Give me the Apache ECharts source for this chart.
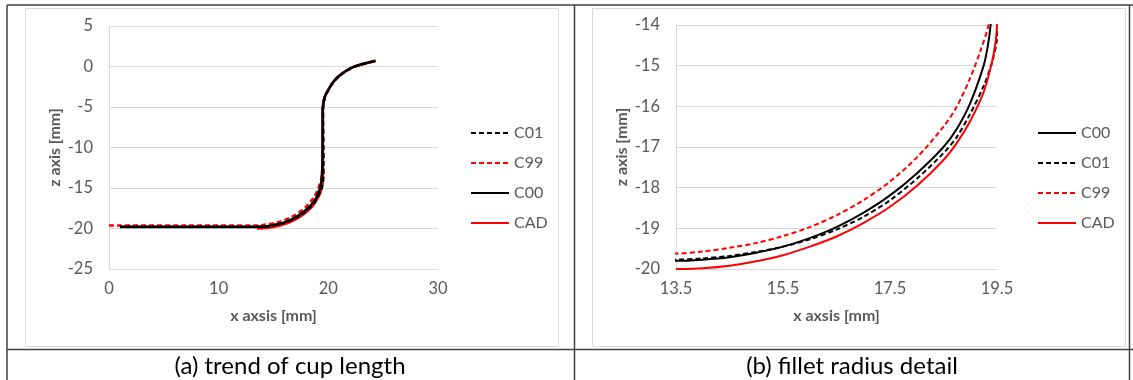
<!DOCTYPE html>
<html>
<head>
<meta charset="utf-8">
<title>cup profile</title>
<script src="https://cdn.jsdelivr.net/npm/echarts@6.0.0/dist/echarts.min.js"></script>
<style>
    html, body { margin: 0; padding: 0; background: #fff; }
    #main { width: 1133px; height: 380px; }
</style>
</head>
<body>
<div id="main"></div>
<script>
// profile points [x, z] in mm
var cadPoints = [
    [13.5, -20.0], [14.0, -19.98], [14.5, -19.92], [15.0, -19.81], [15.5, -19.66], [16.0, -19.45],
    [16.5, -19.2], [17.0, -18.87], [17.5, -18.47], [18.0, -17.96], [18.5, -17.32], [18.75, -16.9],
    [19.0, -16.36], [19.25, -15.65], [19.4, -14.95], [19.47, -14.45], [19.5, -14.0], [19.51, -13.0],
    [19.5, -5.3], [19.56, -4.5], [19.65, -3.9], [19.8, -3.35], [20.0, -2.9], [20.3, -2.2],
    [20.6, -1.68], [21.0, -1.15], [21.5, -0.65], [22.0, -0.25], [22.4, 0.0], [23.0, 0.26],
    [23.6, 0.47], [24.3, 0.7]
];
var c00Points = [
    [1.0, -19.82], [7.0, -19.81], [13.5, -19.8], [14.0, -19.77], [14.5, -19.71], [15.0, -19.6],
    [15.5, -19.45], [16.0, -19.24], [16.5, -18.97], [17.0, -18.62], [17.5, -18.19], [18.0, -17.65],
    [18.5, -17.0], [18.75, -16.55], [19.0, -15.92], [19.25, -15.0], [19.33, -14.5], [19.38, -14.0],
    [19.43, -13.0], [19.47, -11.5], [19.48, -5.2], [19.55, -4.45], [19.64, -3.88], [19.8, -3.33],
    [20.0, -2.88], [20.3, -2.19], [20.6, -1.67], [21.0, -1.14], [21.5, -0.64], [22.0, -0.24],
    [22.4, 0.01], [23.0, 0.27], [23.6, 0.48], [24.3, 0.72]
];
var c01Points = [
    [1.0, -19.79], [7.0, -19.78], [13.5, -19.77], [14.0, -19.74], [14.5, -19.68], [15.0, -19.58],
    [15.5, -19.45], [16.0, -19.27], [16.5, -19.03], [17.0, -18.72], [17.5, -18.31], [18.0, -17.78],
    [18.5, -17.15], [18.75, -16.75], [19.0, -16.18], [19.25, -15.5], [19.4, -14.95], [19.5, -14.35],
    [19.55, -13.5], [19.56, -12.0], [19.52, -5.2], [19.57, -4.5], [19.66, -3.9], [19.81, -3.36],
    [20.0, -2.92], [20.3, -2.22], [20.6, -1.7], [21.0, -1.16], [21.5, -0.66], [22.0, -0.27],
    [22.4, -0.02], [23.0, 0.24], [23.6, 0.45], [24.3, 0.66]
];
var c99Points = [
    [0.0, -19.63], [7.0, -19.63], [13.5, -19.62], [14.0, -19.57], [14.5, -19.48], [15.0, -19.36],
    [15.5, -19.19], [16.0, -18.97], [16.5, -18.68], [17.0, -18.31], [17.5, -17.85], [18.0, -17.26],
    [18.5, -16.5], [18.75, -16.0], [19.0, -15.3], [19.2, -14.6], [19.34, -14.0], [19.42, -13.2],
    [19.46, -12.0], [19.5, -5.3], [19.56, -4.5], [19.65, -3.92], [19.8, -3.37], [20.0, -2.92],
    [20.3, -2.22], [20.6, -1.7], [21.0, -1.16], [21.5, -0.66], [22.0, -0.26], [22.4, -0.01],
    [23.0, 0.25], [23.6, 0.46], [24.3, 0.68]
];

var legendA = ['C01', 'C99', 'C00', 'CAD'];
var legendB = ['C00', 'C01', 'C99', 'CAD'];
var drawOrderA = ['CAD', 'C99', 'C01', 'C00'];
var xTicksA = [0, 10, 20, 30];
var zTicksA = [-25, -20, -15, -10, -5, 0, 5];
var xTicksB = [13.5, 15.5, 17.5, 19.5];
var zTicksB = [-20, -19, -18, -17, -16, -15, -14];
var captions = ['(a) trend of cup length', '(b) fillet radius detail'];

var FONT = 'Lato, "Open Sans", sans-serif';
var GREY = '#595959';

var styles = {
    C00: { color: '#000000', type: 'solid' },
    C01: { color: '#000000', type: [5, 3] },
    C99: { color: '#ff0000', type: [5, 3] },
    CAD: { color: '#ff0000', type: 'solid' }
};
var pointsByName = { C00: c00Points, C01: c01Points, C99: c99Points, CAD: cadPoints };

function makeSeries(name, idx, width) {
    return {
        name: name,
        type: 'line',
        xAxisIndex: idx,
        yAxisIndex: idx,
        data: pointsByName[name],
        symbol: 'none',
        smooth: 0.3,
        clip: true,
        color: styles[name].color,
        lineStyle: { color: styles[name].color, width: width, type: styles[name].type }
    };
}

function xAxisOf(idx, ticks, name) {
    return {
        type: 'value',
        gridIndex: idx,
        min: ticks[0],
        max: ticks[ticks.length - 1],
        name: name,
        nameLocation: 'middle',
        nameGap: 39,
        nameTextStyle: { color: GREY, fontFamily: FONT, fontSize: 16, fontWeight: 'bold' },
        axisLine: { show: true, onZero: false, lineStyle: { color: '#d9d9d9', width: 1 } },
        axisTick: { show: false, customValues: ticks },
        axisLabel: { customValues: ticks, margin: 11, color: GREY, fontFamily: FONT, fontSize: 16.5 },
        splitLine: { show: false }
    };
}

function yAxisOf(idx, ticks, name) {
    return {
        type: 'value',
        gridIndex: idx,
        min: ticks[0],
        max: ticks[ticks.length - 1],
        interval: ticks[1] - ticks[0],
        name: name,
        nameLocation: 'middle',
        nameRotate: 90,
        nameGap: 46,
        nameTextStyle: { color: GREY, fontFamily: FONT, fontSize: 16, fontWeight: 'bold' },
        axisLine: { show: true, lineStyle: { color: '#d9d9d9', width: 1 } },
        axisTick: { show: false },
        axisLabel: { margin: 16, color: GREY, fontFamily: FONT, fontSize: 16.5 },
        splitLine: { show: true, lineStyle: { color: '#d9d9d9', width: 1 } }
    };
}

function legendOf(names, left) {
    return {
        data: names,
        orient: 'vertical',
        left: left,
        top: 125,
        padding: 0,
        itemWidth: 38,
        itemHeight: 14,
        itemGap: 14,
        selectedMode: false,
        // hide the marker dot, keep the line
        itemStyle: { color: 'rgba(0,0,0,0)', borderWidth: 0, opacity: 0 },
        textStyle: { color: GREY, fontFamily: FONT, fontSize: 16 }
    };
}

var myChart = echarts.init(document.getElementById('main'));

var option = {
    animation: false,
    backgroundColor: '#ffffff',
    grid: [
        { left: 109, top: 26, width: 329, height: 243, outerBoundsMode: 'none' },
        { left: 676, top: 25, width: 321, height: 244, outerBoundsMode: 'none' }
    ],
    xAxis: [
        xAxisOf(0, xTicksA, 'x axsis [mm]'),
        xAxisOf(1, xTicksB, 'x axsis [mm]')
    ],
    yAxis: [
        yAxisOf(0, zTicksA, 'z axis [mm]'),
        yAxisOf(1, zTicksB, 'z axis [mm]')
    ],
    legend: [legendOf(legendA, 470), legendOf(legendB, 1037)],
    series: drawOrderA.map(function(n) { return makeSeries(n, 0, 2.5); })
        .concat(legendB.map(function(n) { return makeSeries(n, 1, 2); })),
    graphic: [
        // chart frames
        { type: 'rect', shape: { x: 25.5, y: 8.5, width: 533, height: 338 }, style: { fill: null, stroke: '#d9d9d9', lineWidth: 1 }, z: -1 },
        { type: 'rect', shape: { x: 592.5, y: 8.5, width: 533, height: 338 }, style: { fill: null, stroke: '#d9d9d9', lineWidth: 1 }, z: -1 },
        // table lines
        { type: 'line', shape: { x1: 7, y1: 5, x2: 1133, y2: 5 }, style: { stroke: '#404040', lineWidth: 1.5 } },
        { type: 'line', shape: { x1: 7, y1: 5, x2: 7, y2: 380 }, style: { stroke: '#404040', lineWidth: 1.5 } },
        { type: 'line', shape: { x1: 574.5, y1: 5, x2: 574.5, y2: 380 }, style: { stroke: '#404040', lineWidth: 1.5 } },
        { type: 'line', shape: { x1: 1129.5, y1: 5, x2: 1129.5, y2: 380 }, style: { stroke: '#404040', lineWidth: 1.5 } },
        { type: 'line', shape: { x1: 7, y1: 349.5, x2: 1133, y2: 349.5 }, style: { stroke: '#404040', lineWidth: 1.5 } },
        // captions
        { type: 'text', x: 290, y: 366, style: { text: captions[0], fill: '#000', font: '24px ' + FONT, textAlign: 'center', textVerticalAlign: 'middle' } },
        { type: 'text', x: 852, y: 366, style: { text: captions[1], fill: '#000', font: '24px ' + FONT, textAlign: 'center', textVerticalAlign: 'middle' } }
    ]
};

myChart.setOption(option);
</script>
</body>
</html>
